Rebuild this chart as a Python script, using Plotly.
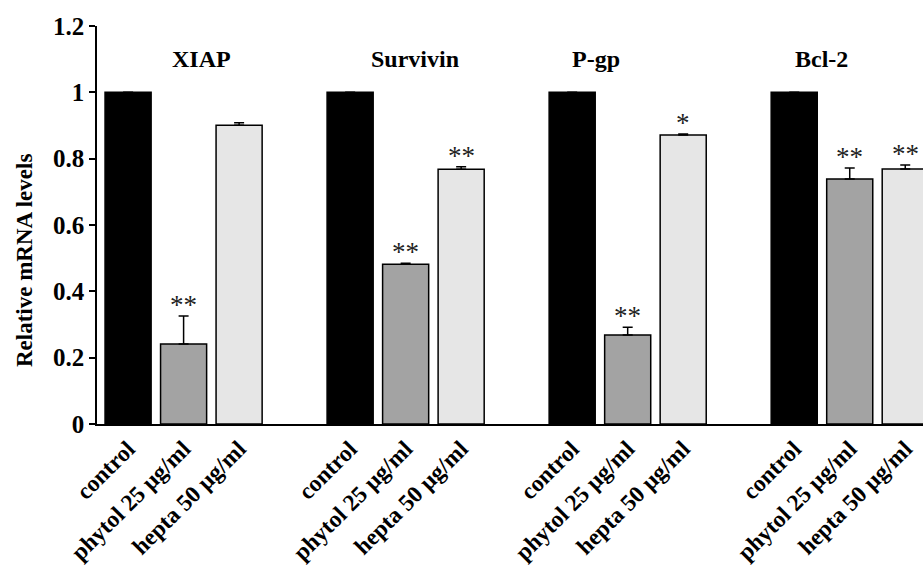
import plotly.graph_objects as go

genes = ["XIAP", "Survivin", "P-gp", "Bcl-2"]
treatments = ["control", "phytol 25 µg/ml", "hepta 50 µg/ml"]

control = [1.0, 1.0, 1.0, 1.0]
control_err = [0.0, 0.0, 0.0, 0.0]
phytol = [0.241, 0.482, 0.268, 0.739]
phytol_err = [0.085, 0.003, 0.024, 0.033]
hepta = [0.901, 0.768, 0.871, 0.769]
hepta_err = [0.007, 0.008, 0.003, 0.012]

control_sig = ["", "", "", ""]
phytol_sig = ["**", "**", "**", "**"]
hepta_sig = ["", "**", "*", "**"]

FONT = "Liberation Serif, Times New Roman, serif"
colors = ["#000000", "#a3a3a3", "#e6e6e6"]
series = [(control, control_err, control_sig),
          (phytol, phytol_err, phytol_sig),
          (hepta, hepta_err, hepta_sig)]

fig = go.Figure()
annotations = []
tickvals, ticktext = [], []
for b, (vals, errs, sigs) in enumerate(series):
    xs = [g * 4 + b for g in range(len(genes))]
    fig.add_trace(go.Bar(
        x=xs, y=vals, width=0.83, name=treatments[b],
        marker=dict(color=colors[b], line=dict(color="black", width=1.5)),
        error_y=dict(type="data", symmetric=False, array=errs,
                     arrayminus=[0] * len(errs), color="black",
                     thickness=1.5, width=5),
        showlegend=False,
    ))
    for x, v, e, s in zip(xs, vals, errs, sigs):
        if s:
            annotations.append(dict(x=x, y=v + e, text=s, showarrow=False,
                                    xref="x", yref="y", yanchor="bottom",
                                    yshift=-6,
                                    font=dict(family=FONT, size=27, color="#222222")))

for g in range(len(genes)):
    for b in range(3):
        tickvals.append(g * 4 + b)
        ticktext.append(treatments[b])

label_offset = [0.32, 0.17, -0.57, -0.5]
for g, name in enumerate(genes):
    annotations.append(dict(x=g * 4 + 1 + label_offset[g], y=1.1, text=name,
                            showarrow=False, xref="x", yref="y",
                            font=dict(family=FONT, size=24, color="black", weight="bold")))

# y-axis title (placed as annotation to match the reference's lower centring)
annotations.append(dict(x=-0.0884, y=0.412, xref="paper", yref="paper",
                        text="Relative mRNA levels", textangle=-90, showarrow=False,
                        xanchor="center", yanchor="middle",
                        font=dict(family=FONT, size=23, color="black", weight="bold")))

fig.update_layout(
    width=923, height=565,
    margin=dict(l=97, r=0, t=26, b=141),
    plot_bgcolor="white", paper_bgcolor="white",
    barmode="overlay",
    annotations=annotations,
    font=dict(family=FONT, color="black"),
)
fig.update_xaxes(
    range=[-0.56, 14.32], tickvals=tickvals, ticktext=ticktext,
    tickangle=-45, ticks="", showline=True, linecolor="black", linewidth=1.5,
    showgrid=False, zeroline=False,
    tickfont=dict(family=FONT, size=23.5, color="black", weight="bold"),
)
fig.update_yaxes(
    range=[0, 1.2], dtick=0.2, tick0=0, ticks="outside", ticklen=6, tickwidth=1.5,
    tickcolor="black", showline=True, linecolor="black", linewidth=1.5,
    showgrid=False, zeroline=False,
    tickfont=dict(family=FONT, size=25, color="black", weight="bold"),
)

fig.write_html("out.html")
